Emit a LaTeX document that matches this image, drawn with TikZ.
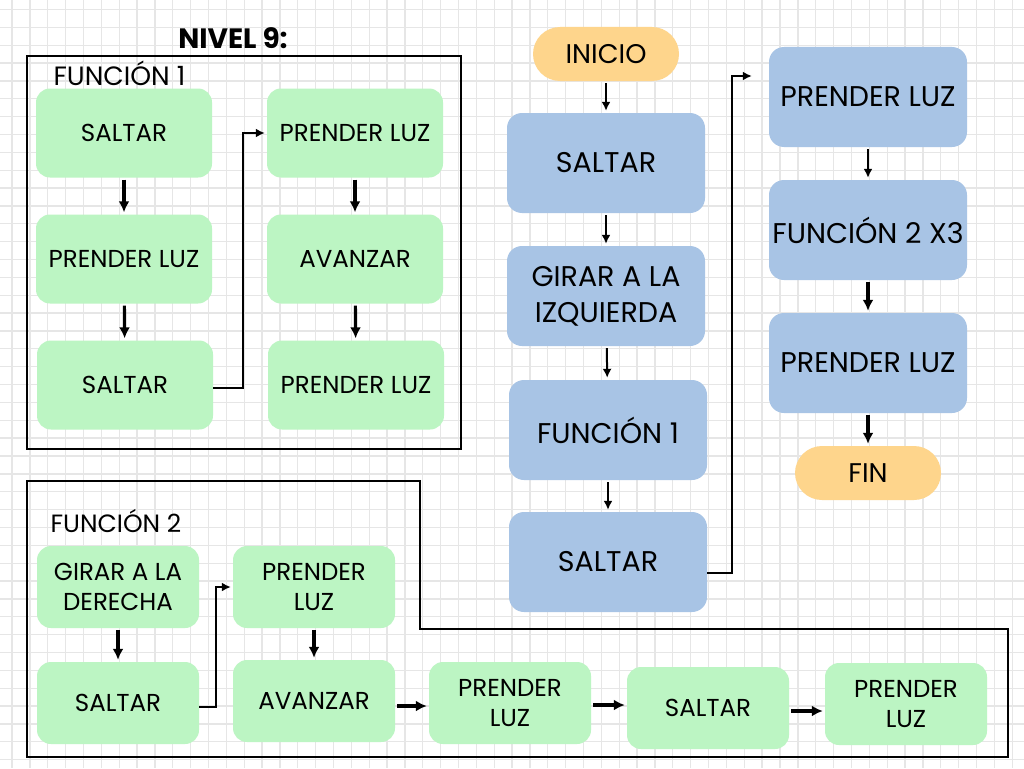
\documentclass[tikz,border=0pt]{standalone}
\usepackage{fontspec}
\setmainfont{Poppins}
\usetikzlibrary{arrows.meta}

\definecolor{gridgray}{RGB}{230,230,230}
\definecolor{boxgreen}{RGB}{188,245,195}
\definecolor{boxblue}{RGB}{168,196,229}
\definecolor{pillorange}{RGB}{254,213,140}

\begin{document}
\begin{tikzpicture}[x=1pt, y=-1pt,
		gridline/.style={draw=gridgray, line width=1.3pt},
		frameline/.style={draw=black, line width=1.6pt},
		greenbox/.style={rectangle, rounded corners=14pt, fill=boxgreen, minimum width=176pt, minimum height=89pt, align=center, font=\fontsize{24.5}{30}\selectfont},
		greensmall/.style={greenbox, minimum width=162pt, minimum height=82pt},
		bluebox/.style={rectangle, rounded corners=15pt, fill=boxblue, minimum width=198pt, minimum height=100pt, align=center, font=\fontsize{28.5}{36}\selectfont},
		pill/.style={rectangle, rounded corners=27pt, fill=pillorange, minimum width=146pt, minimum height=54pt, font=\fontsize{27}{30}\selectfont},
		thickarrow/.style={-{Latex[length=11pt, width=11pt]}, line width=3.2pt, shorten <=2pt, shorten >=2pt},
		thinarrow/.style={-{Latex[length=9pt, width=9pt]}, line width=2pt, shorten <=2pt, shorten >=2pt}]
		
		% Background and grid
		\useasboundingbox (0,0) rectangle (1024,768);
		\fill[white] (0,0) rectangle (1024,768);
		\foreach \i in {0,...,56} \draw[gridline] ({12+17.86*\i},0) -- ({12+17.86*\i},768);
		\foreach \j in {0,...,42} \draw[gridline] (0,{9.5+17.86*\j}) -- (1024,{9.5+17.86*\j});
		
		% Title and frames
		\node[font=\bfseries\fontsize{28}{32}\selectfont] (title) at (233,38) {NIVEL 9:};
		\draw[frameline] (27,56) rectangle (461,449);
		\draw[frameline] (27,481) -- (420,481) -- (420,629) -- (1008,629) -- (1008,757) -- (27,757) -- cycle;
		\node[anchor=west, font=\fontsize{26.5}{30}\selectfont] (lblf1) at (50,73) {FUNCIÓN 1};
		\node[anchor=west, font=\fontsize{25}{30}\selectfont] (lblf2) at (47,521) {FUNCIÓN 2};
		
		% Function 1
		\node[greenbox] (f1saltar) at (124,133) {SALTAR};
		\node[greenbox] (f1prender) at (124,259) {PRENDER LUZ};
		\node[greenbox] (f1saltarb) at (125,385) {SALTAR};
		\node[greenbox] (f1prenderb) at (355,133) {PRENDER LUZ};
		\node[greenbox] (f1avanzar) at (355,259) {AVANZAR};
		\node[greenbox] (f1prenderc) at (356,385) {PRENDER LUZ};
		
		% Function 2
		\node[greensmall] (f2girar) at (118,587) {GIRAR A LA\\DERECHA};
		\node[greensmall] (f2saltar) at (118,703) {SALTAR};
		\node[greensmall] (f2prender) at (314,587) {PRENDER\\LUZ};
		\node[greensmall] (f2avanzar) at (314,701) {AVANZAR};
		\node[greensmall] (f2prenderb) at (510,703) {PRENDER\\LUZ};
		\node[greensmall] (f2saltarb) at (708,708) {SALTAR};
		\node[greensmall] (f2prenderc) at (906,704) {PRENDER\\LUZ};
		
		% Main program
		\node[pill] (inicio) at (606,54) {INICIO};
		\node[bluebox] (msaltar) at (606,163) {SALTAR};
		\node[bluebox] (mgirar) at (606,296) {GIRAR A LA\\IZQUIERDA};
		\node[bluebox] (mfuncion) at (608,430) {FUNCIÓN 1};
		\node[bluebox] (msaltarb) at (608,562) {SALTAR};
		\node[bluebox] (mprender) at (868,97) {PRENDER LUZ};
		\node[bluebox] (mfuncion2) at (868,230) {FUNCIÓN 2 X3};
		\node[bluebox] (mprenderb) at (868,363) {PRENDER LUZ};
		\node[pill] (fin) at (868,473) {FIN};
		
		% Connect
		\draw[thickarrow] (f1saltar) -- (f1prender);
		\draw[thickarrow] (f1prender) -- (f1saltarb);
		\draw[thinarrow, shorten <=0pt] ([yshift=-3pt]f1saltarb.east) -- ++(30,0) |- (f1prenderb.west);
		\draw[thickarrow] (f1prenderb) -- (f1avanzar);
		\draw[thickarrow] (f1avanzar) -- (f1prenderc);
		
		\draw[thickarrow] (f2girar) -- (f2saltar);
		\draw[thinarrow, shorten <=0pt] ([yshift=-4pt]f2saltar.east) -- ++(17,0) |- (f2prender.west);
		\draw[thickarrow] (f2prender) -- (f2avanzar);
		\draw[thickarrow] ([yshift=-5pt]f2avanzar.east) -- ([yshift=-3pt]f2prenderb.west);
		\draw[thickarrow] ([yshift=-2pt]f2prenderb.east) -- ([yshift=3pt]f2saltarb.west);
		\draw[thickarrow] ([yshift=-3pt]f2saltarb.east) -- ([yshift=-7pt]f2prenderc.west);
		
		\draw[thinarrow] (inicio) -- (msaltar);
		\draw[thinarrow] (msaltar) -- (mgirar);
		\draw[thinarrow] (mgirar) -- (mfuncion);
		\draw[thinarrow] (mfuncion) -- (msaltarb);
		\draw[thinarrow, shorten <=0pt, shorten >=17pt] ([yshift=-11pt]msaltarb.east) -- ++(25,0) |- ([yshift=21pt]mprender.west);
		\draw[thinarrow] (mprender) -- (mfuncion2);
		\draw[thickarrow] (mfuncion2) -- (mprenderb);
		\draw[thickarrow] (mprenderb) -- (fin);
		
	\end{tikzpicture}
\end{document}
